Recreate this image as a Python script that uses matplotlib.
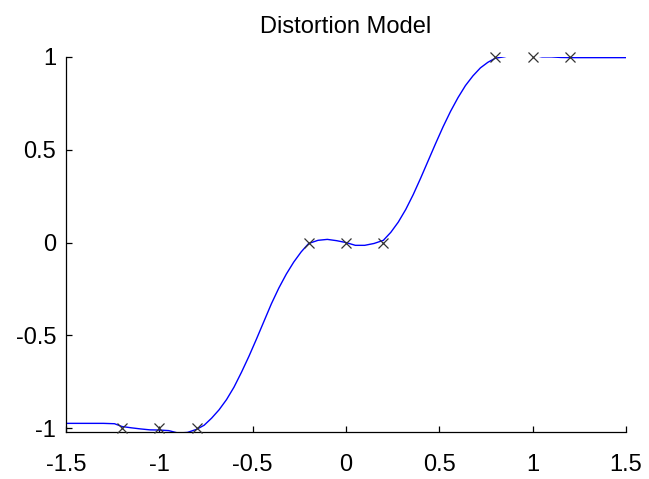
import matplotlib

matplotlib.use("Agg")
import matplotlib.pyplot as plt

plt.rcParams.update({
    "font.family": "Liberation Sans",
    "axes.unicode_minus": False,
})

# Sample points of the transfer curve
curve_x = [-1.50, -1.40, -1.30, -1.24, -1.20, -1.15, -1.10, -1.05, -1.00, -0.95,
           -0.90, -0.85, -0.80, -0.76, -0.72, -0.68, -0.64, -0.60, -0.56, -0.52,
           -0.48, -0.44, -0.40, -0.36, -0.32, -0.28, -0.24, -0.20, -0.15, -0.10,
           -0.05, 0.00, 0.05, 0.10, 0.15, 0.20, 0.24, 0.28, 0.32, 0.36,
           0.40, 0.44, 0.48, 0.52, 0.56, 0.60, 0.64, 0.68, 0.72, 0.76,
           0.80, 0.85, 0.90, 0.95, 1.00, 1.05, 1.10, 1.15, 1.20, 1.30,
           1.40, 1.50]
curve_y = [-0.973, -0.973, -0.973, -0.975, -0.990, -0.997, -1.003, -1.008, -1.009, -1.012,
           -1.025, -1.022, -1.005, -0.983, -0.945, -0.900, -0.845, -0.778, -0.698, -0.612,
           -0.520, -0.425, -0.330, -0.245, -0.170, -0.105, -0.050, -0.005, 0.012, 0.017,
           0.010, 0.000, -0.015, -0.015, -0.005, 0.012, 0.055, 0.110, 0.178, 0.258,
           0.347, 0.440, 0.533, 0.623, 0.706, 0.780, 0.845, 0.897, 0.940, 0.970,
           0.992, 1.000, 1.012, 1.014, 1.008, 0.999, 0.999, 0.996, 0.995, 0.995,
           0.995, 0.995]

# Control points
knot_x = [-1.2, -1.0, -0.8, -0.2, 0.0, 0.2, 0.8, 1.0, 1.2]
knot_y = [-1, -1, -1, 0, 0, 0, 1, 1, 1]

x_ticks = [-1.5, -1, -0.5, 0, 0.5, 1, 1.5]
x_labels = ["-1.5", "-1", "-0.5", "0", "0.5", "1", "1.5"]
y_ticks = [-1, -0.5, 0, 0.5, 1]
y_labels = ["-1", "-0.5", "0", "0.5", "1"]

fig = plt.figure(figsize=(6.49, 4.79), dpi=100)
fig.patch.set_facecolor("white")
ax = fig.add_axes([0.1017, 0.0987, 0.8629, 0.7829])

ax.plot(curve_x, curve_y, color="#0000ff", linewidth=1.0)
ax.plot(knot_x, knot_y, linestyle="none", marker="x", markersize=7,
        markeredgewidth=0.9, color="#333333", clip_on=False, zorder=5)

ax.set_xlim(-1.5, 1.5)
ax.set_ylim(-1.018, 1.0)
ax.set_xticks(x_ticks)
ax.set_xticklabels(x_labels)
ax.set_yticks(y_ticks)
ax.set_yticklabels(y_labels)

for side in ("top", "right"):
    ax.spines[side].set_visible(False)
for side in ("left", "bottom"):
    ax.spines[side].set_linewidth(0.9)
    ax.spines[side].set_color("black")

ax.tick_params(axis="both", direction="in", length=4, width=0.9,
               labelsize=17, colors="black")
ax.tick_params(axis="x", pad=16)
ax.tick_params(axis="y", pad=7)

ax.set_title("Distortion Model", fontsize=17, pad=17)

fig.savefig("out.png", facecolor="white")
plt.close(fig)
